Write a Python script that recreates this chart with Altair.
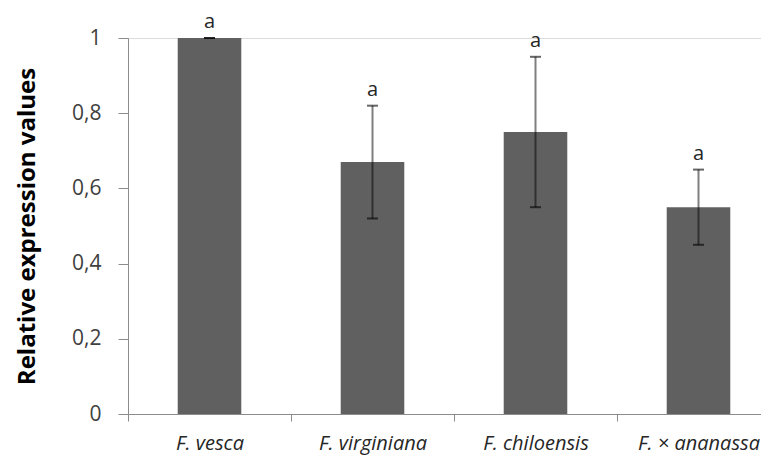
import altair as alt
import pandas as pd

species = ["F. vesca", "F. virginiana", "F. chiloensis", "F. × ananassa"]
means = [1.0, 0.67, 0.75, 0.55]
errors = [0.0, 0.15, 0.20, 0.10]
letters = ["a", "a", "a", "a"]

df = pd.DataFrame({
    "species": species,
    "mean": means,
    "err": errors,
    "letter": letters,
})
df["lower"] = df["mean"] - df["err"]
df["upper"] = df["mean"] + df["err"]

FONT = "Open Sans"

x_enc = alt.X(
    "species:N",
    sort=species,
    scale=alt.Scale(range=[0, 652], paddingInner=0, paddingOuter=0),
    axis=alt.Axis(
        title=None,
        tickBand="extent",
        labelFont=FONT,
        labelFontStyle="italic",
        labelFontSize=20,
        labelColor="#262626",
        labelAngle=0,
        labelPadding=12,
        tickSize=7,
        tickColor="#8c8c8c",
        domainColor="#8c8c8c",
        labelBaseline="top",
    ),
)

y_scale = alt.Scale(domain=[0, 1], nice=False)

bars = alt.Chart(df).mark_bar(
    color="#606060", width=alt.RelativeBandSize(0.39)
).encode(
    x=x_enc,
    y=alt.Y(
        "mean:Q",
        scale=y_scale,
        axis=alt.Axis(
            title="Relative expression values",
            titleFont=FONT,
            titleFontSize=24,
            titleFontWeight="bold",
            titleColor="#000000",
            titleX=-101,
            titleY=188,
            titleAngle=-90,
            titleAlign="center",
            titleBaseline="middle",
            values=[0, 0.2, 0.4, 0.6, 0.8, 1.0],
            labelExpr="replace(format(datum.value, '.1~f'), '.', ',')",
            labelFont=FONT,
            labelFontSize=21,
            labelColor="#404040",
            labelPadding=17,
            tickSize=10,
            tickColor="#8c8c8c",
            domainColor="#8c8c8c",
            grid=False,
        ),
    ),
)

rules = alt.Chart(df).mark_rule(color="#000000", opacity=0.5, strokeWidth=2).encode(
    x=alt.X("species:N", sort=species),
    y="lower:Q",
    y2="upper:Q",
)

cap_hi = alt.Chart(df).mark_tick(color="#000000", opacity=0.6, thickness=2, size=11).encode(
    x=alt.X("species:N", sort=species),
    y="upper:Q",
)
cap_lo = alt.Chart(df).mark_tick(color="#000000", opacity=0.6, thickness=2, size=11).encode(
    x=alt.X("species:N", sort=species),
    y="lower:Q",
)

labels = alt.Chart(df).mark_text(
    font=FONT, fontSize=20, color="#262626", baseline="middle", dy=-16
).encode(
    x=alt.X("species:N", sort=species),
    y="upper:Q",
    text="letter:N",
)

chart = alt.layer(bars, rules, cap_hi, cap_lo, labels).properties(
    width=633,
    height=376,
    padding={"left": 120, "top": 30, "right": 0, "bottom": 41},
    autosize=alt.AutoSizeParams(type="none"),
).configure_view(stroke=None).configure(background="white")

chart.save("out.html", embed_options={"renderer": "svg", "actions": False})
